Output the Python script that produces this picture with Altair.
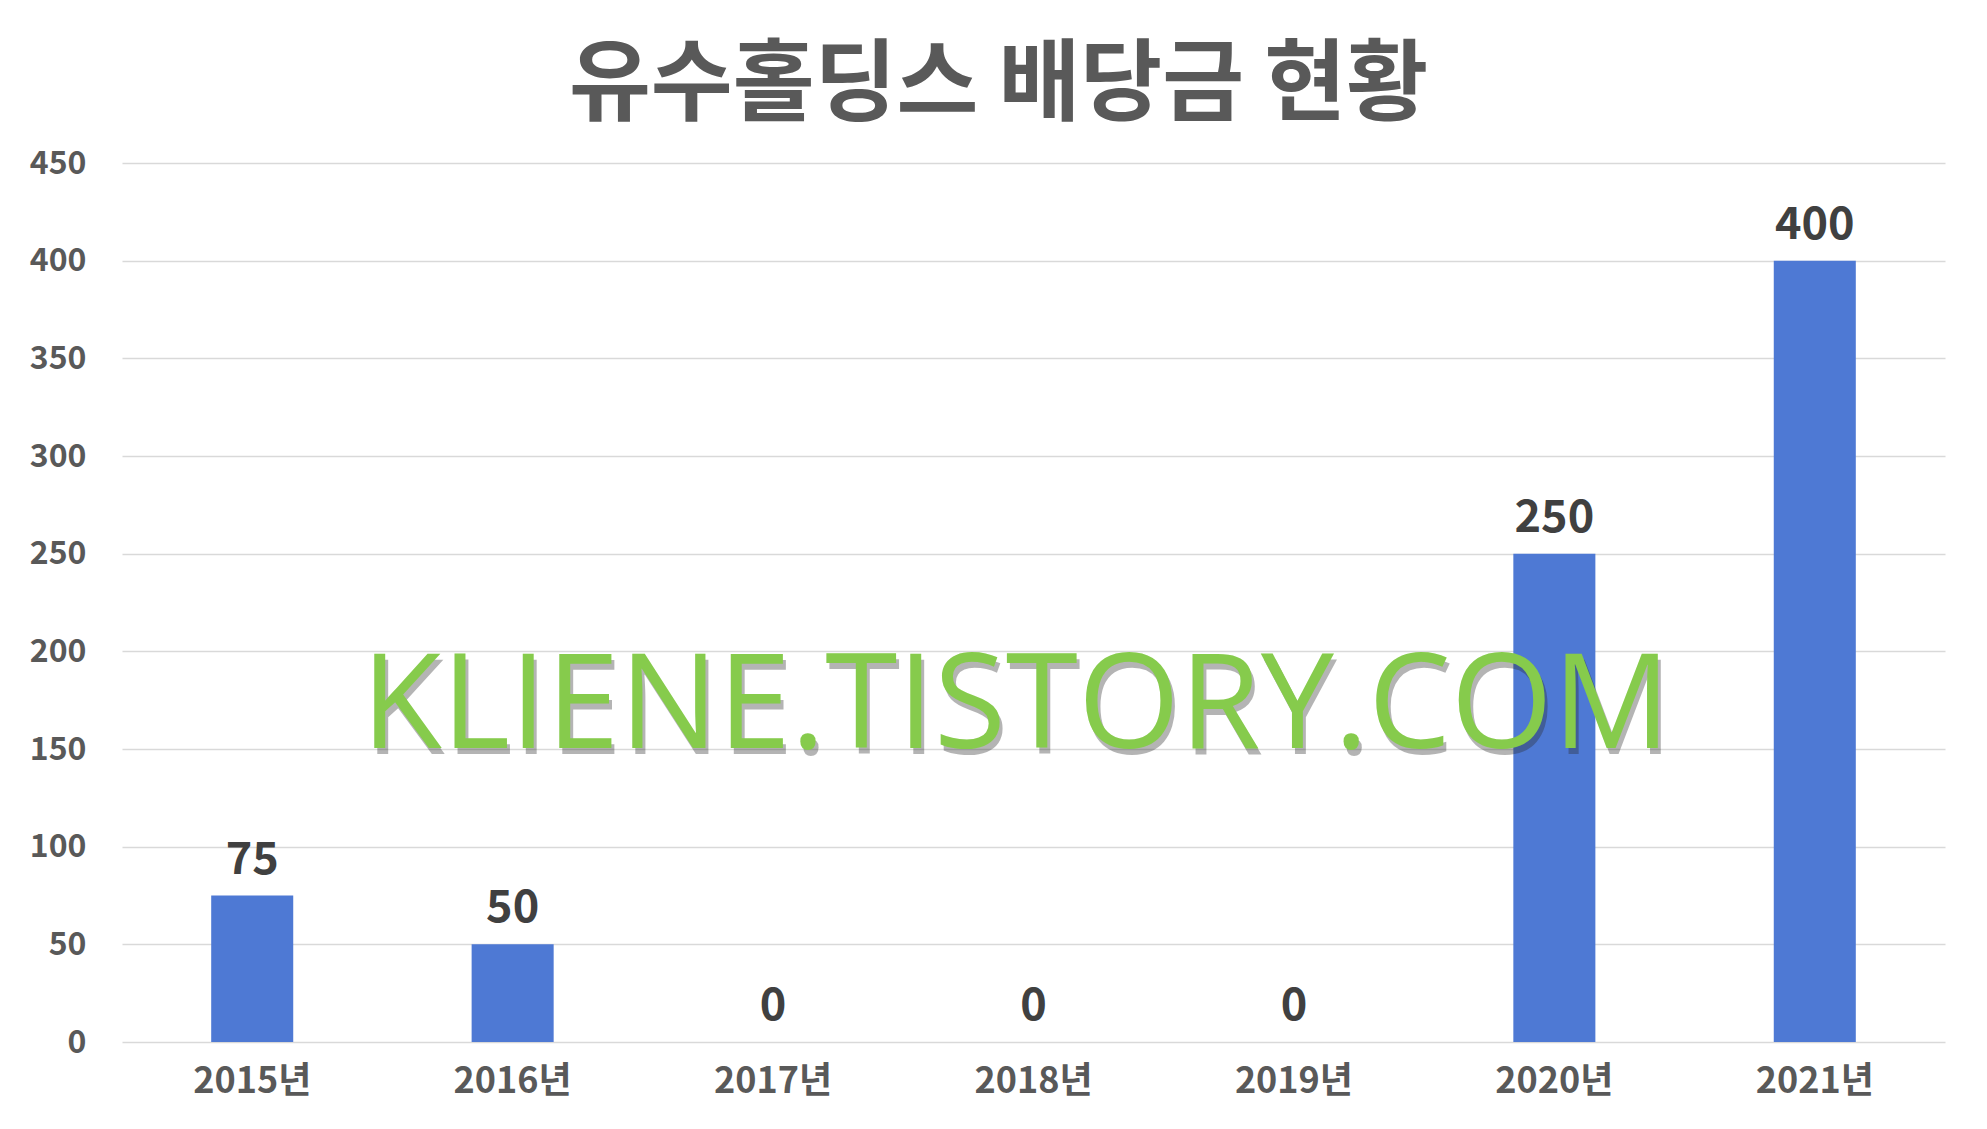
import altair as alt
import pandas as pd

# ---- data ----
years = ["2015년", "2016년", "2017년", "2018년", "2019년", "2020년", "2021년"]
dividends = [75, 50, 0, 0, 0, 250, 400]
y_ticks = [0, 50, 100, 150, 200, 250, 300, 350, 400, 450]
title_text = "유수홀딩스 배당금 현황"
watermark = ["KLIENE.TISTORY.COM"]

df = pd.DataFrame({"year": years, "dividend": dividends})
wm = pd.DataFrame({"t": watermark})

FONT = "Noto Sans CJK KR"
W, H = 1823, 879

x_enc = alt.X(
    "year:N",
    sort=None,
    title=None,
    scale=alt.Scale(paddingInner=0.685, paddingOuter=0.3425),
    axis=alt.Axis(
        labelFont=FONT, labelFontSize=36, labelFontWeight="bold",
        labelColor="#595959", labelPadding=22, ticks=False, domain=False,
        labelAngle=0, grid=False,
    ),
)
y_enc = alt.Y(
    "dividend:Q",
    title=None,
    scale=alt.Scale(domain=[0, 450], nice=False),
    axis=alt.Axis(
        values=y_ticks, labelFont=FONT, labelFontSize=32, labelFontWeight="bold",
        labelColor="#595959", labelPadding=36, ticks=False, domain=False,
        gridColor="#D9D9D9", gridWidth=1.6,
    ),
)

base = alt.Chart(df)
bars = base.mark_bar(color="#4E79D4").encode(x=x_enc, y=y_enc)
labels = base.mark_text(
    font=FONT, fontSize=45, fontWeight="bold", color="#404040",
    baseline="alphabetic", dy=-22,
).encode(x=x_enc, y=y_enc, text="dividend:Q")

wm_shadow = alt.Chart(wm).mark_text(
    font="Open Sans", fontSize=131, color="#2b2b2b", opacity=0.35,
    align="center", baseline="middle", dx=3, dy=6,
).encode(text="t:N", x=alt.value(894), y=alt.value(546))
wm_text = alt.Chart(wm).mark_text(
    font="Open Sans", fontSize=131, color="#86CB4C",
    align="center", baseline="middle",
).encode(text="t:N", x=alt.value(894), y=alt.value(546))

chart = alt.layer(bars, labels, wm_shadow, wm_text).properties(
    width=W,
    height=H,
    background="white",
    title=alt.TitleParams(
        text=title_text, font=FONT, fontSize=89, fontWeight="bold",
        color="#595959", anchor="middle", frame="group", dx=-35, offset=15,
    ),
    autosize=alt.AutoSizeParams(type="none"),
    padding={"left": 114, "top": 155, "right": 34, "bottom": 70},
).configure_view(strokeWidth=0, stroke="transparent")

chart.save("out.html", embed_options={"renderer": "svg", "actions": False})
